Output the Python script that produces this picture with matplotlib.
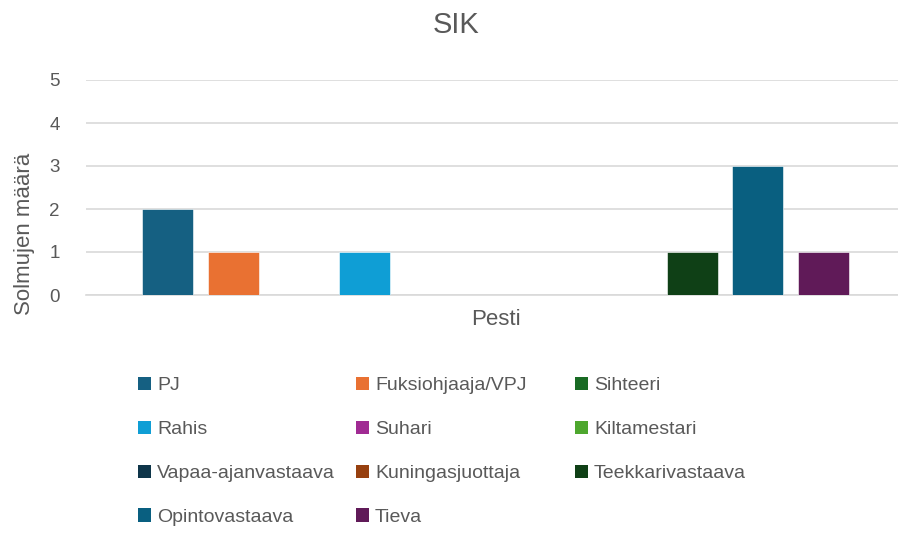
import matplotlib
matplotlib.use("Agg")
import matplotlib.pyplot as plt
from matplotlib.patches import Patch

plt.rcParams['font.family'] = ['Liberation Sans', 'DejaVu Sans']

# ---- data ----
category = "Pesti"
series = ["PJ", "Fuksiohjaaja/VPJ", "Sihteeri", "Rahis", "Suhari", "Kiltamestari",
          "Vapaa-ajanvastaava", "Kuningasjuottaja", "Teekkarivastaava",
          "Opintovastaava", "Tieva"]
values = [2, 1, 0, 1, 0, 0, 0, 0, 1, 3, 1]
colors = ["#156082", "#E97132", "#196B24", "#0F9ED5", "#A02B93", "#4EA72E",
          "#0E3549", "#97400F", "#0F4016", "#095F80", "#601A58"]
yticks = [0, 1, 2, 3, 4, 5]

W, H = 898, 533
fig = plt.figure(figsize=(W / 100, H / 100), dpi=100)
ax = fig.add_axes([86 / W, (H - 295) / H, 819 / W, 215 / H])

n = len(series)
bar_w = 0.777
for i, (s, v, c) in enumerate(zip(series, values, colors)):
    ax.bar(i - (n - 1) / 2, v, width=bar_w, color=c, label=s,
           edgecolor="white", linewidth=0.4, zorder=3)

ax.set_xlim(-(n - 1) / 2 - 1.242, (n - 1) / 2 + 1.242)
ax.set_ylim(0, 5)
ax.set_yticks(yticks)
ax.set_xticks([0])
ax.set_xticklabels([category])
ax.yaxis.grid(True, color="#D9D9D9", linewidth=1.2, zorder=0)
ax.set_axisbelow(True)
for sp in ["top", "right", "left"]:
    ax.spines[sp].set_visible(False)
ax.spines["bottom"].set_color("#D9D9D9")
ax.spines["bottom"].set_linewidth(1.2)
ax.tick_params(axis="y", length=0, labelsize=13.5, labelcolor="#595959", pad=19)
ax.tick_params(axis="x", length=0, labelsize=16, labelcolor="#595959", pad=10)
fig.text(25 / W, 1 - 234 / H, "Solmujen määrä", rotation=90, ha="center", va="center",
         fontsize=16, color="#595959")
fig.text(456 / W, 1 - 25 / H, "SIK", ha="center", va="center", fontsize=21, color="#595959")

handles = [Patch(facecolor=c, edgecolor="none", label=s) for s, c in zip(series, colors)]
col_x = [138, 356, 575]
for col in range(3):
    idx = list(range(col, n, 3))
    leg = fig.legend([handles[i] for i in idx], [series[i] for i in idx],
                     loc="upper left", bbox_to_anchor=(col_x[col] / W, 1 - 377 / H),
                     frameon=False, fontsize=14, handlelength=0.66, handleheight=0.66,
                     handletextpad=0.32, labelspacing=1.36, borderpad=0, borderaxespad=0)
    for t in leg.get_texts():
        t.set_color("#595959")

fig.savefig("out.png", dpi=100)
